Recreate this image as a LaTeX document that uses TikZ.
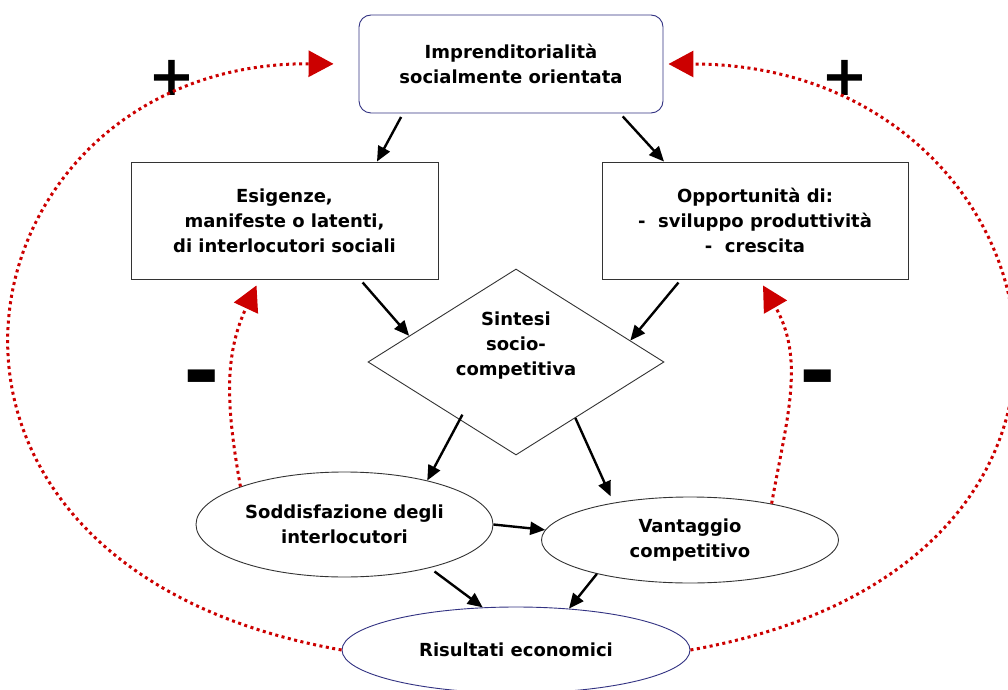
\documentclass[tikz,border=0pt]{standalone}
\usepackage{fontspec}
\setmainfont{DejaVu Sans}
\usetikzlibrary{shapes.geometric, arrows.meta, calc}
\definecolor{loopred}{RGB}{204,0,0}
\definecolor{navyline}{RGB}{50,50,130}

\begin{document}
\begin{tikzpicture}[x=1pt, y=1pt,
  txt/.style={font=\bfseries\fontsize{18}{25}\selectfont, align=center, inner sep=2pt},
  box/.style={txt, shape=rectangle, draw=black!80, line width=0.9pt, fill=white},
  oval/.style={txt, shape=ellipse, draw=black!80, line width=0.9pt, fill=white},
  flow/.style={-{Triangle[length=15pt, width=13pt]}, line width=2.4pt},
  loop/.style={-{Triangle[length=25pt, width=26pt]}, color=loopred, line width=3pt, dash pattern=on 3pt off 3.5pt},
  sign/.style={font=\bfseries\fontsize{56}{56}\selectfont, inner sep=0pt}]
\useasboundingbox (0,0) rectangle (1008,689);
\node[box, rounded corners=12pt, draw=navyline, minimum width=304pt, minimum height=98pt] (imp) at (511,625) {Imprenditorialità\\socialmente orientata};
\node[box, minimum width=307pt, minimum height=117pt] (esi) at (284.5,468.5) {Esigenze,\\manifeste o latenti,\\di interlocutori sociali};
\node[box, minimum width=306pt, minimum height=117pt] (opp) at (755,468.5) {Opportunità di:\\-\ \ sviluppo produttività\\-\ \ crescita};
\node[txt, shape=diamond, aspect=1.6, draw=black!80, line width=0.9pt, fill=white, minimum width=296pt, minimum height=186pt] (sin) at (516,327) {Sintesi\\socio-\\competitiva\\[12pt]\mbox{}};
%results
\node[oval, minimum width=297pt, minimum height=105pt] (sod) at (344.5,164.5) {Soddisfazione degli\\interlocutori};
\node[oval, minimum width=297pt, minimum height=86pt] (van) at (690,149) {Vantaggio\\competitivo};
\node[oval, draw=navyline, minimum width=348pt, minimum height=86pt] (ris) at (516,39) {Risultati economici};
%signs
\node[sign] (plusl) at (172,611) {+}; \node[sign] (plusr) at (845,611) {+};
\node[sign, font=\bfseries\fontsize{88}{88}\selectfont] (minl) at (202,303) {-};
\node[sign, font=\bfseries\fontsize{88}{88}\selectfont] (minr) at (818,303) {-};
%%
\draw[flow, shorten <=4pt] ([xshift=-108pt]imp.south) -- ([xshift=92.5pt]esi.north);
\draw[flow, shorten <=4pt] ([xshift=109pt]imp.south) -- ([xshift=-91pt]opp.north);
\draw[flow, shorten <=4pt] ([xshift=75.5pt]esi.south) -- ($(sin.west)!0.28!(sin.north)$);
\draw[flow, shorten <=4pt] ([xshift=-74pt]opp.south) -- ($(sin.east)!0.23!(sin.north)$);
\draw[flow, shorten <=-6pt] ($(sin.west)!0.62!(sin.south)$) -- (sod.28);
\draw[flow, shorten >=7pt] ($(sin.south)!0.4!(sin.east)$) -- (van.154);
\draw[flow] (sod.east) -- (van.176);
\draw[flow, shorten <=6pt] (sod.-27) -- (ris.128); \draw[flow] (van.200) -- (ris.38);
%loops
\draw[loop, shorten >=25pt] (ris.west) .. controls (-150,126) and (-45,627) .. (imp.west);
\draw[loop, shorten >=5pt] (ris.east) .. controls (1182,126) and (1060,625) .. (imp.east);
\draw[loop] (sod.160) to[out=100, in=-115] ([xshift=-28pt, yshift=-6pt]esi.south);
\draw[loop] (van.24) to[out=80, in=-60] ([xshift=8pt, yshift=-6pt]opp.south);
\end{tikzpicture}
\end{document}
